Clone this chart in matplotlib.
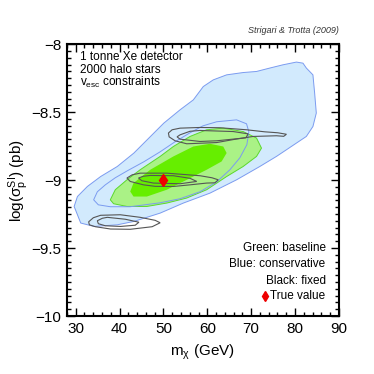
import matplotlib
matplotlib.use('Agg')
from matplotlib import pyplot as plt
from matplotlib.ticker import MultipleLocator

plt.rcParams['font.family'] = ['Liberation Sans', 'DejaVu Sans']
plt.rcParams['mathtext.default'] = 'regular'

# ---- contours (m_chi in GeV, log sigma in pb) ----
# conservative (blue), outer region
blue_out_x = [29.64, 30.39, 32.66, 35.68, 39.48, 43.27, 47.05, 50.09, 53.80, 56.82, 59.09, 61.36,
              64.41, 68.18, 71.23, 74.25, 77.27, 80.32, 81.82, 82.59, 84.09, 84.48, 84.86, 84.09,
              82.59, 80.32, 78.05, 75.77, 71.98, 66.68, 60.61, 54.55, 49.25, 43.27, 39.48, 34.18, 31.14]
blue_out_y = [-9.194, -9.121, -9.047, -8.974, -8.900, -8.801, -8.679, -8.581, -8.483, -8.410, -8.312, -8.263,
              -8.226, -8.209, -8.201, -8.176, -8.152, -8.132, -8.140, -8.176, -8.226, -8.360, -8.507, -8.606,
              -8.679, -8.728, -8.777, -8.826, -8.900, -8.998, -9.096, -9.169, -9.243, -9.304, -9.329, -9.341, -9.316]
# conservative (blue), inner line
blue_in_x = [34.09, 34.93, 36.75, 39.02, 41.75, 45.55, 49.25, 52.66, 56.07, 59.02, 62.14, 66.68,
             68.95, 69.48, 69.02, 67.43, 65.16, 62.14, 58.34, 53.80, 49.25, 42.43, 37.89, 35.16]
blue_in_y = [-9.145, -9.086, -9.035, -8.983, -8.932, -8.865, -8.792, -8.718, -8.652, -8.601, -8.571, -8.557,
             -8.586, -8.645, -8.740, -8.836, -8.924, -9.013, -9.086, -9.137, -9.167, -9.196, -9.196, -9.182]
# baseline (green)
green_out_x = [37.89, 39.02, 41.68, 44.70, 49.25, 52.27, 56.07, 59.86, 63.64, 68.18, 71.23,
               72.36, 71.23, 68.18, 64.41, 59.86, 55.32, 50.77, 46.23, 41.68, 38.64]
green_out_y = [-9.145, -9.071, -8.998, -8.924, -8.826, -8.753, -8.679, -8.630, -8.618, -8.643, -8.691,
               -8.765, -8.826, -8.900, -8.974, -9.071, -9.132, -9.169, -9.194, -9.194, -9.174]
green_in_x = [42.43, 43.18, 47.0, 52.27, 56.82, 60.61, 63.64, 64.41, 63.27, 59.86, 55.32, 50.77, 46.23, 43.18]
green_in_y = [-9.084, -9.022, -8.924, -8.826, -8.753, -8.733, -8.753, -8.801, -8.863, -8.924, -8.998,
              -9.071, -9.121, -9.121]
# fixed (black), three islands, outer + inner each
blackA_out_x = [51.14, 51.98, 53.80, 58.34, 62.89, 68.95, 73.11, 76.07, 78.05, 77.43, 75.77, 70.45,
                66.30, 62.14, 58.34, 55.32, 52.66, 51.30]
blackA_out_y = [-8.654, -8.630, -8.618, -8.613, -8.615, -8.630, -8.645, -8.652, -8.663, -8.678, -8.674,
                -8.679, -8.700, -8.724, -8.729, -8.733, -8.711, -8.682]
blackA_in_x = [53.80, 56.07, 58.34, 65.91, 69.32, 68.80, 62.14, 58.34, 53.80, 53.11]
blackA_in_y = [-8.667, -8.641, -8.635, -8.643, -8.660, -8.689, -8.711, -8.716, -8.699, -8.682]
blackB_out_x = [41.68, 42.89, 44.70, 50.77, 58.34, 61.07, 62.50, 61.75, 59.86, 56.07, 52.27, 48.11, 45.45, 42.43]
blackB_out_y = [-8.985, -8.961, -8.949, -8.949, -8.968, -8.983, -8.998, -9.020, -9.022, -9.035, -9.047,
                -9.046, -9.035, -9.010]
blackB_in_x = [44.32, 45.39, 47.0, 52.27, 56.07, 57.59, 53.80, 47.73, 45.09]
blackB_in_y = [-8.985, -8.972, -8.966, -8.968, -8.987, -9.010, -9.027, -9.022, -9.005]
blackC_out_x = [32.95, 34.02, 35.68, 40.16, 44.70, 48.11, 49.25, 47.43, 42.43, 37.95, 34.48, 33.11]
blackC_out_y = [-9.307, -9.277, -9.259, -9.255, -9.274, -9.296, -9.314, -9.343, -9.362, -9.360, -9.343, -9.329]
blackC_in_x = [34.93, 36.07, 37.20, 41.30, 44.41, 43.57, 40.23, 36.75, 35.16]
blackC_in_y = [-9.299, -9.281, -9.274, -9.288, -9.310, -9.332, -9.341, -9.336, -9.321]

true_m = 50
true_sigma = -9.0

legend_lines = ['Green: baseline', 'Blue: conservative', 'Black: fixed']

fig = plt.figure(figsize=(3.74, 3.74), dpi=100)
ax = fig.add_axes([0.179, 0.155, 0.727, 0.727])

ax.fill(blue_out_x, blue_out_y, facecolor='#d2eafd', edgecolor='#7b9bf0', lw=0.7, zorder=1)
ax.fill(green_out_x, green_out_y, facecolor='#aaf286', edgecolor='#5cd82c', lw=0.7, zorder=2)
ax.fill(green_in_x, green_in_y, facecolor='#66ee00', edgecolor='none', zorder=3)
ax.fill(blue_in_x, blue_in_y, fill=False, edgecolor='#7b9bf0', lw=0.7, zorder=4)
for xs, ys in [(blackA_out_x, blackA_out_y), (blackA_in_x, blackA_in_y),
               (blackB_out_x, blackB_out_y), (blackB_in_x, blackB_in_y),
               (blackC_out_x, blackC_out_y), (blackC_in_x, blackC_in_y)]:
    ax.fill(xs, ys, fill=False, edgecolor='#555555', lw=0.8, zorder=5)
ax.plot([true_m], [true_sigma], marker='d', color='#ee0000', ms=6, ls='none', zorder=6)

ax.set_xlim(28, 90)
ax.set_ylim(-10, -8)
ax.xaxis.set_major_locator(MultipleLocator(10))
ax.xaxis.set_minor_locator(MultipleLocator(2))
ax.yaxis.set_major_locator(MultipleLocator(0.5))
ax.yaxis.set_minor_locator(MultipleLocator(0.05))
ax.set_yticks([-10, -9.5, -9, -8.5, -8])
ax.set_yticklabels(['\u221210', '\u22129.5', '\u22129', '\u22128.5', '\u22128'])
ax.tick_params(which='both', direction='in', top=True, right=True, labelsize=11, width=1)
ax.tick_params(which='major', length=6, pad=4)
ax.tick_params(which='minor', length=3)
for s in ax.spines.values():
    s.set_linewidth(1.5)

ax.set_xlabel(r'$m_{\chi}$ (GeV)', fontsize=11, labelpad=5)
ax.set_ylabel(r'log($\sigma_{p}^{SI}$) (pb)', fontsize=11, labelpad=0)

ax.text(0.048, 0.940, '1 tonne Xe detector', transform=ax.transAxes, fontsize=8.5, va='baseline')
ax.text(0.048, 0.893, '2000 halo stars', transform=ax.transAxes, fontsize=8.5, va='baseline')
ax.text(0.048, 0.846, r'$v_{esc}$ constraints', transform=ax.transAxes, fontsize=8.5, va='baseline')

for i, t in enumerate(legend_lines):
    ax.text(0.951, 0.25 - i * 0.06, t, transform=ax.transAxes, fontsize=8.5, ha='right', va='center')
ax.plot([0.73], [0.072], marker='d', color='#ee0000', ms=5, transform=ax.transAxes, clip_on=False)
ax.text(0.951, 0.072, 'True value', transform=ax.transAxes, fontsize=8.5, ha='right', va='center')

ax.text(1.0, 1.049, 'Strigari & Trotta (2009)', transform=ax.transAxes, fontsize=6.5,
        style='italic', ha='right', va='center', color='#333333')

fig.savefig('out.png', dpi=100)
